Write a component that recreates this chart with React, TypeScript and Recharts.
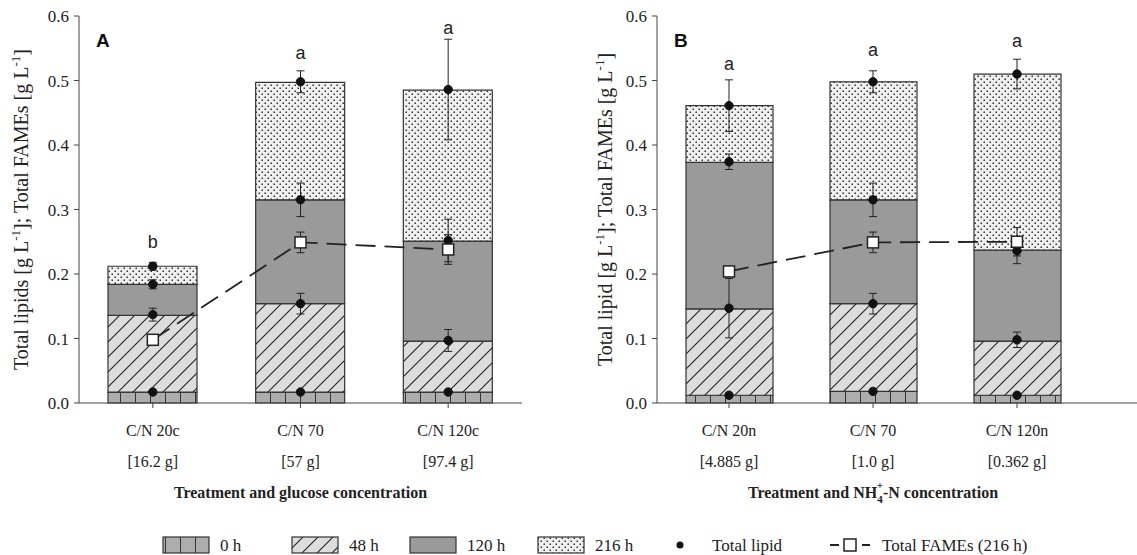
import React from "react";
import { Bar, ComposedChart, ErrorBar, Label, LabelList, Line, XAxis, YAxis } from "recharts";

// panel A: treatment and glucose concentration
const categoriesA = ["C/N 20c", "C/N 70", "C/N 120c"];
const concA = ["[16.2 g]", "[57 g]", "[97.4 g]"];
// cumulative bar tops per sampling time
const top0A = [0.017, 0.017, 0.017];
const top48A = [0.136, 0.154, 0.096];
const top120A = [0.184, 0.315, 0.251];
const top216A = [0.212, 0.497, 0.485];
// total lipid means and errors
const lipid0A = [0.017, 0.017, 0.017];
const lipid48A = [0.137, 0.154, 0.097];
const lipid120A = [0.184, 0.315, 0.252];
const lipid216A = [0.212, 0.498, 0.486];
const err48A = [0.01, 0.016, 0.017];
const err120A = [0.007, 0.026, 0.033];
const err216A = [0.006, 0.017, 0.078];
const fameA = [0.098, 0.249, 0.238];
const fameErrA = [0, 0.016, 0.023];
const sigA = ["b", "a", "a"];
const sigPosA = [0.249, 0.543, 0.581];

// panel B: treatment and NH4+-N concentration
const categoriesB = ["C/N 20n", "C/N 70", "C/N 120n"];
const concB = ["[4.885 g]", "[1.0 g]", "[0.362 g]"];
const top0B = [0.012, 0.018, 0.012];
const top48B = [0.146, 0.154, 0.096];
const top120B = [0.373, 0.315, 0.237];
const top216B = [0.461, 0.498, 0.51];
const lipid0B = [0.012, 0.018, 0.012];
const lipid48B = [0.147, 0.154, 0.098];
const lipid120B = [0.374, 0.315, 0.236];
const lipid216B = [0.461, 0.498, 0.51];
const err48B = [0.046, 0.016, 0.012];
const err120B = [0.012, 0.026, 0.02];
const err216B = [0.04, 0.017, 0.023];
const fameB = [0.204, 0.249, 0.25];
const fameErrB = [0, 0.016, 0.022];
const sigB = ["a", "a", "a"];
const sigPosB = [0.526, 0.548, 0.562];

const yTicks = [0, 0.1, 0.2, 0.3, 0.4, 0.5, 0.6];

const stages = [
  { key: "s0", name: "0 h", fill: "url(#pat0)" },
  { key: "s48", name: "48 h", fill: "url(#pat48)" },
  { key: "s120", name: "120 h", fill: "#9a9a9a" },
  { key: "s216", name: "216 h", fill: "url(#pat216)" },
];

const SERIF = "'Liberation Serif', 'Times New Roman', serif";
const SANS = "'Liberation Sans', Arial, sans-serif";
const INK = "#222";

function buildRows(cats, tops, lipids, errs, fame, fameErr, sig, sigPos) {
  return cats.map((cat, i) => ({
    cat,
    s0: tops[0][i],
    s48: tops[1][i] - tops[0][i],
    s120: tops[2][i] - tops[1][i],
    s216: tops[3][i] - tops[2][i],
    l0: lipids[0][i],
    l48: lipids[1][i],
    l120: lipids[2][i],
    l216: lipids[3][i],
    e48: errs[0][i],
    e120: errs[1][i],
    e216: errs[2][i],
    fame: fame[i],
    fameErr: fameErr[i],
    sig: sig[i],
    sigPos: sigPos[i],
  }));
}

const rowsA = buildRows(
  categoriesA,
  [top0A, top48A, top120A, top216A],
  [lipid0A, lipid48A, lipid120A, lipid216A],
  [err48A, err120A, err216A],
  fameA, fameErrA, sigA, sigPosA
);
const rowsB = buildRows(
  categoriesB,
  [top0B, top48B, top120B, top216B],
  [lipid0B, lipid48B, lipid120B, lipid216B],
  [err48B, err120B, err216B],
  fameB, fameErrB, sigB, sigPosB
);

function Patterns() {
  return (
    <svg width={0} height={0} style={{ position: "absolute" }}>
      <defs>
        <pattern id="pat0" patternUnits="userSpaceOnUse" width={15} height={20}>
          <rect width={15} height={20} fill="#adadad" />
          <line x1={0.5} y1={0} x2={0.5} y2={20} stroke="#333" strokeWidth={1} />
        </pattern>
        <pattern id="pat48" patternUnits="userSpaceOnUse" width={15} height={15}>
          <rect width={15} height={15} fill="#dddddd" />
          <path d="M0,15 L15,0 M-4,4 L4,-4 M11,19 L19,11" stroke="#222" strokeWidth={1.1} />
        </pattern>
        <pattern id="pat216" patternUnits="userSpaceOnUse" width={6} height={6}>
          <rect width={6} height={6} fill="#f0f0f0" />
          <rect x={0.5} y={0.5} width={1.5} height={1.5} fill="#333" />
          <rect x={3.5} y={3.5} width={1.5} height={1.5} fill="#333" />
        </pattern>
      </defs>
    </svg>
  );
}

const makeTick = (cats, conc) => (props) => {
  const { x, y, payload } = props;
  const i = cats.indexOf(payload.value);
  return (
    <g>
      <text x={x} y={y + 26} textAnchor="middle" fontFamily={SERIF} fontSize={16} fill={INK}>
        {payload.value}
      </text>
      <text x={x} y={y + 57} textAnchor="middle" fontFamily={SERIF} fontSize={16} fill={INK}>
        {conc[i]}
      </text>
    </g>
  );
};

const squareDot = (props) => {
  const { cx, cy, index } = props;
  return <rect key={`sq${index}`} x={cx - 5.5} y={cy - 5.5} width={11} height={11} fill="#fff" stroke={INK} strokeWidth={1.5} />;
};

const sigLabel = (props) => {
  const { x, y, value } = props;
  return (
    <text x={x} y={y + 6} textAnchor="middle" fontFamily={SANS} fontSize={18} fill={INK}>
      {value}
    </text>
  );
};

function Panel({ rows, cats, conc, letter, yLabel, yLabelDx, xTitle, barSize, padRight, frameRight, width, left, marginLeft, marginRight }) {
  const yLabelContent = ({ viewBox }) => {
    const cx = viewBox.x + yLabelDx;
    const cy = viewBox.y + viewBox.height / 2;
    return (
      <text x={cx} y={cy} transform={`rotate(-90 ${cx} ${cy})`} textAnchor="middle" fontFamily={SERIF} fontSize={20} fill={INK}>
        {yLabel}
      </text>
    );
  };
  const xTitleContent = ({ viewBox }) => (
    <text x={viewBox.x + (viewBox.width - padRight) / 2} y={viewBox.y + 95} textAnchor="middle" fontFamily={SERIF} fontWeight="bold" fontSize={16} fill={INK}>
      {xTitle}
    </text>
  );
  return (
    <div style={{ position: "absolute", left, top: 0 }}>
      <ComposedChart width={width} height={510} data={rows} margin={{ top: 16, right: marginRight, bottom: 7, left: marginLeft }}>
        <XAxis
          dataKey="cat"
          xAxisId="b"
          height={100}
          padding={{ left: 0, right: padRight }}
          tickSize={5}
          tickLine={{ stroke: "#444" }}
          axisLine={{ stroke: "#444" }}
          tick={makeTick(cats, conc)}
          interval={0}
        >
          <Label content={xTitleContent} />
        </XAxis>
        <XAxis dataKey="cat" xAxisId="t" orientation="top" height={0} tick={false} tickLine={false} axisLine={{ stroke: "#444" }} padding={{ left: 0, right: padRight }} />
        <YAxis
          yAxisId="l"
          width={69}
          domain={[0, 0.6]}
          ticks={yTicks}
          tickSize={5}
          tickMargin={5}
          tickFormatter={(v) => v.toFixed(1)}
          tick={{ fontFamily: SERIF, fontSize: 17, fill: INK }}
          tickLine={{ stroke: "#444" }}
          axisLine={{ stroke: "#444" }}
        >
          <Label content={yLabelContent} />
        </YAxis>
        {frameRight && (
          <YAxis yAxisId="r" orientation="right" width={0} domain={[0, 0.6]} tick={false} tickLine={false} axisLine={{ stroke: "#444" }} />
        )}
        {stages.map((s) => (
          <Bar
            key={s.key}
            dataKey={s.key}
            name={s.name}
            stackId="stack"
            xAxisId="b"
            yAxisId="l"
            barSize={barSize}
            fill={s.fill}
            stroke="#333"
            strokeWidth={1.2}
            isAnimationActive={false}
          />
        ))}
        {["0", "48", "120", "216"].map((k) => (
          <Line
            key={`l${k}`}
            dataKey={`l${k}`}
            name="Total lipid"
            xAxisId="b"
            yAxisId="l"
            stroke="none"
            dot={{ r: 4.2, fill: "#111", stroke: "#111", strokeWidth: 1 }}
            activeDot={false}
            isAnimationActive={false}
          >
            {k !== "0" && <ErrorBar dataKey={`e${k}`} width={4} stroke={INK} strokeWidth={1} direction="y" />}
          </Line>
        ))}
        <Line
          dataKey="fame"
          name="Total FAMEs (216 h)"
          xAxisId="b"
          yAxisId="l"
          type="linear"
          stroke={INK}
          strokeWidth={1.8}
          strokeDasharray="20 9"
          dot={squareDot}
          activeDot={false}
          isAnimationActive={false}
        >
          <ErrorBar dataKey="fameErr" width={4} stroke={INK} strokeWidth={1} direction="y" />
        </Line>
        <Line dataKey="sigPos" xAxisId="b" yAxisId="l" stroke="none" dot={false} activeDot={false} isAnimationActive={false}>
          <LabelList dataKey="sig" content={sigLabel} />
        </Line>
      </ComposedChart>
      <div style={{ position: "absolute", left: marginLeft + 69 + 17, top: 30, fontFamily: SANS, fontWeight: "bold", fontSize: 19, color: "#111" }}>
        {letter}
      </div>
    </div>
  );
}

function Legend() {
  const boxes = [163, 292, 410, 538];
  const cy = 545;
  return (
    <svg width={1137} height={30} style={{ position: "absolute", left: 0, top: 530 }} viewBox={`0 530 1137 30`}>
      {stages.map((s, i) => (
        <g key={s.key}>
          <rect x={boxes[i]} y={cy - 8} width={46} height={16} fill={s.fill} stroke="#333" strokeWidth={1.2} />
          <text x={boxes[i] + 57} y={cy + 6} fontFamily={SERIF} fontSize={17} fill={INK}>
            {s.name}
          </text>
        </g>
      ))}
      <circle cx={680} cy={cy} r={3.5} fill="#111" />
      <text x={712} y={cy + 6} fontFamily={SERIF} fontSize={17} fill={INK}>Total lipid</text>
      <line x1={830} y1={cy} x2={870} y2={cy} stroke={INK} strokeWidth={1.8} strokeDasharray="9 7" />
      <rect x={844} y={cy - 6} width={12} height={12} fill="#fff" stroke={INK} strokeWidth={1.5} />
      <text x={882} y={cy + 6} fontFamily={SERIF} fontSize={17} fill={INK}>Total FAMEs (216 h)</text>
    </svg>
  );
}

const sup = (t) => (
  <>
    <tspan dy={-8} fontSize={13}>{t}</tspan>
    <tspan dy={8}>]</tspan>
  </>
);

export default function App() {
  return (
    <div style={{ position: "fixed", left: 0, top: 0, width: 1137, height: 555, background: "#fff", overflow: "hidden" }}>
      <Patterns />
      <Panel
        rows={rowsA}
        cats={categoriesA}
        conc={concA}
        letter="A"
        yLabel={<>Total lipids [g L{sup("-1")}; Total FAMEs [g L{sup("-1")}</>}
        yLabelDx={18}
        xTitle="Treatment and glucose concentration"
        barSize={89}
        padRight={0}
        frameRight={true}
        width={560}
        left={0}
        marginLeft={10}
        marginRight={38}
      />
      <Panel
        rows={rowsB}
        cats={categoriesB}
        conc={concB}
        letter="B"
        yLabel={<>Total lipid [g L{sup("-1")}; Total FAMEs [g L{sup("-1")}</>}
        yLabelDx={24}
        xTitle={
          <>
            Treatment and NH
            <tspan dy={5} fontSize={11}>4</tspan>
            <tspan dx={-6} dy={-14} fontSize={11}>+</tspan>
            <tspan dy={9}>-N concentration</tspan>
          </>
        }
        barSize={87}
        padRight={48}
        frameRight={false}
        width={577}
        left={560}
        marginLeft={28}
        marginRight={0}
      />
      <Legend />
    </div>
  );
}
